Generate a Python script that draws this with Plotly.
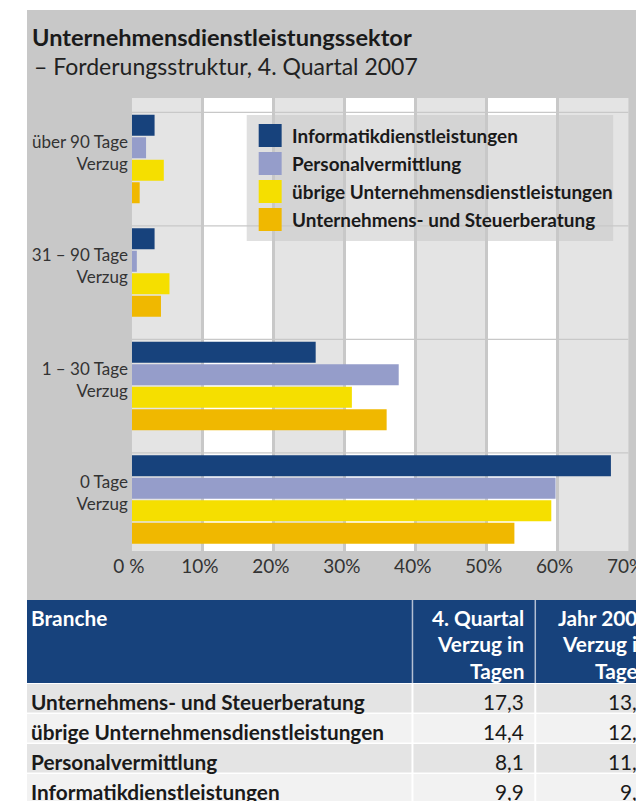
import plotly.graph_objects as go

# ---------------- data ----------------
categories = ["0 Tage<br>Verzug", "1 – 30 Tage<br>Verzug", "31 – 90 Tage<br>Verzug", "über 90 Tage<br>Verzug"]
series_names = ["Informatikdienstleistungen", "Personalvermittlung",
                "übrige Unternehmensdienstleistungen", "Unternehmens- und Steuerberatung"]
informatik = [67.5, 25.9, 3.2, 3.2]
personal = [59.7, 37.6, 0.7, 2.0]
uebrige = [59.1, 31.0, 5.3, 4.5]
beratung = [53.9, 35.9, 4.1, 1.1]
x_ticks = [0, 10, 20, 30, 40, 50, 60, 70]
x_ticktext = ["0 %", "10%", "20%", "30%", "40%", "50%", "60%", "70%"]

title = "Unternehmensdienstleistungssektor"
subtitle = "– Forderungsstruktur, 4. Quartal 2007"

table_header = ["Branche", "4. Quartal<br>Verzug in<br>Tagen", "Jahr 2007<br>Verzug in<br>Tagen"]
table_branchen = ["Unternehmens- und Steuerberatung", "übrige Unternehmensdienstleistungen",
                  "Personalvermittlung", "Informatikdienstleistungen"]
table_q4 = [17.3, 14.4, 8.1, 9.9]
table_year = [13.9, 12.4, 11.1, 9.5]

colors = ["#17427c", "#959dca", "#f5df00", "#f0b800"]
series_values = [informatik, personal, uebrige, beratung]

# ---------------- layout helpers (target picture pixels -> paper) ----------------
W, H = 656, 801
OFF = 8
SX, AX = 0.948, 17.4        # observed horizontal mapping of the page into the picture
FONT = "Lato"
TXT = "#1a1a1a"


def px(x):
    return ((x - AX) / SX - OFF) / W


def cx(x):
    return min(max(px(x), 0.0), 1.0)


def py(y):
    return 1 - (y - OFF) / H


ypos = list(range(len(categories)))

fig = go.Figure()
for name, vals, col in reversed(list(zip(series_names, series_values, colors))):
    fig.add_trace(go.Bar(
        y=ypos, x=vals, name=name, orientation="h",
        marker=dict(color=col, line=dict(width=0)),
        showlegend=False, hoverinfo="x+name",
    ))

shapes = []
annotations = []
# gray background panel
shapes.append(dict(type="rect", xref="paper", yref="paper", x0=cx(11), x1=1.0,
                   y0=py(600), y1=py(10), fillcolor="#c8c8c8", line=dict(width=0), layer="below"))
# column bands of the plot area
for i in range(len(x_ticks) - 1):
    shapes.append(dict(type="rect", xref="x", yref="y domain", x0=x_ticks[i], x1=x_ticks[i + 1],
                       y0=0, y1=1, fillcolor="#e4e4e4" if i % 2 == 0 else "#ffffff",
                       line=dict(width=0), layer="below"))
# thin separators at the top of each group
for p in ypos:
    shapes.append(dict(type="line", xref="x", yref="y", x0=x_ticks[0], x1=x_ticks[-1],
                       y0=p + 0.41, y1=p + 0.41, line=dict(color="#c8c8c8", width=1.2), layer="below"))

# legend
shapes.append(dict(type="rect", xref="paper", yref="paper", x0=px(245), x1=px(612),
                   y0=py(241), y1=py(115), fillcolor="rgba(200,200,200,0.56)",
                   line=dict(width=0), layer="above"))
for i, (name, col) in enumerate(zip(series_names, colors)):
    top = 124 + 28 * i
    shapes.append(dict(type="rect", xref="paper", yref="paper", x0=px(257), x1=px(280),
                       y0=py(top + 23), y1=py(top), fillcolor=col, line=dict(width=0), layer="above"))
    annotations.append(dict(xref="paper", yref="paper", x=px(288), y=py(top + 11.5),
                            text="<b>" + name + "</b>", showarrow=False, xanchor="left", yanchor="middle",
                            font=dict(family=FONT, size=18.9, color=TXT)))

# titles
annotations.append(dict(xref="paper", yref="paper", x=max(px(28), 0.004), y=py(37),
                        text="<b>" + title + "</b>", showarrow=False, xanchor="left", yanchor="middle",
                        font=dict(family=FONT, size=23.6, color=TXT)))
annotations.append(dict(xref="paper", yref="paper", x=max(px(30), 0.007), y=py(66), text=subtitle,
                        showarrow=False, xanchor="left", yanchor="middle",
                        font=dict(family=FONT, size=23, color="#222222")))

# ---------------- table ----------------
fmt = lambda v: f"{v:.1f}".replace(".", ",")
col_edges = [12, 411, 534, 720]
text_x = [27, 525, 650]
col_align = ["left", "right", "right"]
head_top, head_bot = 600, 683
row_h = 30
row_fill = ["#e4e4e4", "#f2f2f2"]
TFONT = 20.8

shapes.append(dict(type="rect", xref="paper", yref="paper", x0=cx(col_edges[0]), x1=cx(col_edges[-1]),
                   y0=py(head_bot), y1=py(head_top), fillcolor="#17427c", line=dict(width=0)))
for xe in col_edges[1:-1]:
    shapes.append(dict(type="line", xref="paper", yref="paper", x0=px(xe), x1=px(xe),
                       y0=py(head_bot), y1=py(head_top), line=dict(color="#b4bfd3", width=1.5)))
for c, h in enumerate(table_header):
    for k, line in enumerate(h.split("<br>")):
        annotations.append(dict(xref="paper", yref="paper", x=px(text_x[c]), y=py(617 + 26.5 * k),
                                text="<b>" + line + "</b>", showarrow=False, xanchor=col_align[c],
                                yanchor="middle", font=dict(family=FONT, size=TFONT, color="white")))

columns = [["<b>" + b + "</b>" for b in table_branchen],
           [fmt(v) for v in table_q4], [fmt(v) for v in table_year]]
for r in range(len(table_branchen)):
    top = head_bot + 1 + r * row_h
    for c in range(3):
        shapes.append(dict(type="rect", xref="paper", yref="paper",
                           x0=cx(col_edges[c] + (1 if c else 0)),
                           x1=cx(col_edges[c + 1] - (1 if c < 2 else 0)),
                           y0=py(top + row_h - 1.5), y1=py(top), fillcolor=row_fill[r % 2],
                           line=dict(width=0)))
        annotations.append(dict(xref="paper", yref="paper", x=px(text_x[c]), y=py(top + 17),
                                text=columns[c][r], showarrow=False, xanchor=col_align[c],
                                yanchor="middle", font=dict(family=FONT, size=TFONT, color=TXT)))

fig.update_layout(
    width=W, height=H, margin=dict(l=0, r=0, t=0, b=0),
    paper_bgcolor="white", plot_bgcolor="rgba(0,0,0,0)",
    barmode="group", bargap=0.207, bargroupgap=0.067,
    shapes=shapes, annotations=annotations, showlegend=False,
    font=dict(family=FONT, size=19, color="#333333"),
    xaxis=dict(domain=[px(130), px(627.5)], range=[0, 70], tickvals=x_ticks, ticktext=x_ticktext,
               showgrid=True, gridcolor="#c8c8c8", gridwidth=3, zeroline=False, showline=False,
               ticks="", tickfont=dict(family=FONT, size=19, color="#333333"), ticklabelstandoff=2,
               ticklabelshift=-3, fixedrange=True),
    yaxis=dict(domain=[py(551), py(98)], range=[-0.454, 3.537], tickvals=ypos, ticktext=categories,
               showgrid=False, zeroline=False, showline=False, ticks="",
               tickfont=dict(family=FONT, size=17, color="#333333"), ticklabelshift=-6,
               ticklabelstandoff=3, fixedrange=True),
)

fig.write_html("out.html")
